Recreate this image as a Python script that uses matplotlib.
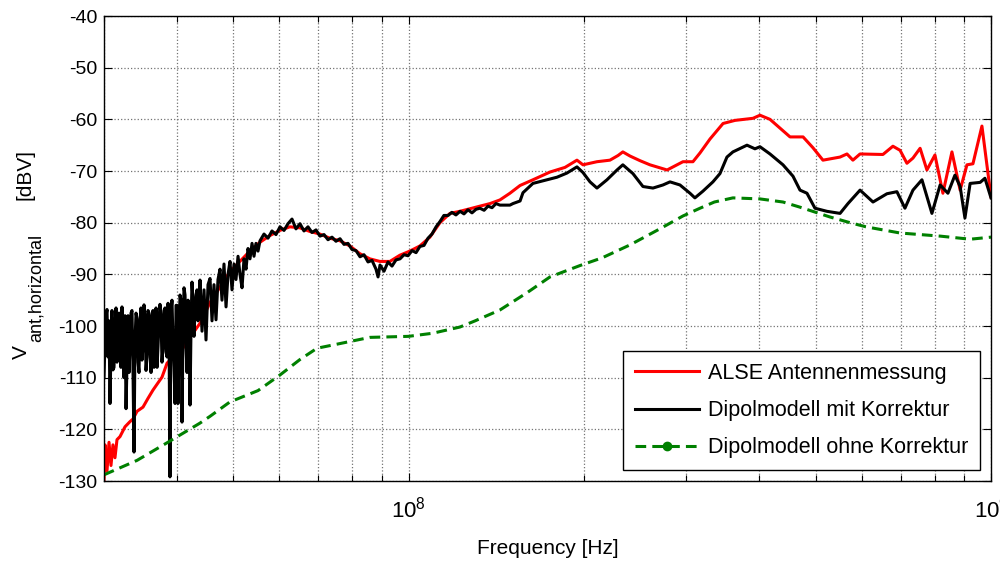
import numpy as np
import matplotlib
matplotlib.use('Agg')
import matplotlib.pyplot as plt
from matplotlib.lines import Line2D
from matplotlib.ticker import LogLocator, NullFormatter

plt.rcParams['font.family'] = ['Liberation Sans', 'DejaVu Sans']
plt.rcParams['mathtext.fontset'] = 'custom'
plt.rcParams['mathtext.rm'] = 'Liberation Sans'
plt.rcParams['axes.unicode_minus'] = False

# frequencies in MHz, levels in dBV
alse_f = [30.0, 30.12, 30.36, 30.6, 30.84, 31.08, 31.33, 31.58, 31.96, 32.6,
          33.25, 33.64, 34.19, 35.0, 35.7, 36.41, 37.14, 37.73, 38.49, 39.4,
          40.5, 41.66, 42.64, 43.83, 44.74, 45.59, 47.43, 49.34, 51.33, 53.4,
          55.55, 57.79, 60.12, 62.55, 65.07, 67.69, 70.42, 73.26, 76.22, 79.29,
          82.49, 85.82, 89.28, 92.88, 96.62, 100.5, 104.6, 108.8, 113.2, 117.8,
          122.5, 127.5, 132.6, 138.0, 143.5, 149.3, 155.4, 163.5, 174.9, 185.6,
          194.6, 199.3, 210.6, 221.7, 228.9, 233.3, 240.0, 249.7, 259.7, 277.9,
          295.9, 307.8, 316.5, 329.3, 346.7, 363.5, 390.2, 401.2, 417.4, 451.8,
          475.7, 494.7, 514.6, 550.6, 565.9, 579.3, 595.9, 652.3, 678.6, 698.1,
          717.2, 734.5, 755.6, 776.2, 801.2, 826.9, 856.9, 885.1, 909.3, 931.1,
          964.8, 1000.0]
alse_db = [-130, -123, -128, -122.5, -127, -123, -125.5, -122, -121.4, -119.5,
           -118.5, -118, -116.5, -115.7, -114, -112.4, -111, -109.9, -107.2, -106,
           -105.2, -103, -101.4, -99.5, -97.5, -95.5, -92.5, -89.5, -87.5, -85.5,
           -83.8, -82.5, -81.5, -80.8, -81, -81.7, -82.2, -83, -83.5, -84.5,
           -86, -87, -87.5, -87.5, -86.3, -85.5, -84.5, -82.8, -80, -78.2,
           -77.8, -77.3, -76.8, -76.3, -75.6, -74.3, -72.8, -71.7, -70.2, -69.3,
           -67.9, -68.8, -68.2, -67.9, -67, -66.3, -67.1, -68, -68.8, -69.8,
           -68.2, -68.2, -66.5, -63.8, -60.8, -60.2, -59.8, -59.2, -60, -63.4,
           -63.4, -65.5, -67.9, -67.3, -66.7, -67.9, -66.7, -66.8, -65.2, -66,
           -68.5, -67.5, -65.6, -69.8, -66.9, -74.3, -66.3, -73.7, -68.8, -68.6,
           -61.3, -75]

# Dipolmodell mit Korrektur, in pieces (the noisy low end is dense)
mit_f_low = [30.0, 30.24, 30.48, 30.72, 30.96, 31.21, 31.46, 31.71, 31.96, 32.21,
             32.47, 32.73, 32.99, 33.25, 33.51, 33.78, 34.05, 34.32, 34.59, 34.86,
             35.14, 35.42, 35.7, 35.98, 36.27, 36.56, 36.85, 37.14, 37.43, 37.73,
             38.03, 38.33, 38.64, 38.94, 39.25, 39.57, 39.88, 40.2, 40.51, 40.84,
             41.16, 41.49, 41.82, 42.15, 42.48, 42.82, 43.16, 43.5, 43.85]
mit_db_low = [-110, -98, -106, -115, -97, -108, -96.5, -105, -99, -96.3,
              -110, -116, -98, -104, -97, -124.4, -97.5, -107, -99, -106.6,
              -95.9, -108.6, -97, -105, -98, -108, -96.5, -104, -95.8, -107,
              -97, -105, -95.6, -129.2, -95, -108, -96, -115, -94, -118.6,
              -92.6, -104, -95, -115.3, -91.5, -102, -94, -99, -91.1]

mit_f_low2 = [30.12, 30.36, 30.6, 30.84, 31.08, 31.33, 31.58, 31.83, 32.08, 32.34,
              32.6, 32.86, 33.12, 33.38, 33.64, 33.91, 34.18, 34.45, 34.72, 35.0,
              35.28, 35.56, 35.84, 36.13, 36.41, 36.7, 37.0, 37.29, 37.58, 37.88,
              38.18, 38.49, 38.79, 39.1, 39.41, 39.73, 40.04, 40.36, 40.68, 41.0,
              41.33, 41.66, 41.99, 42.32, 42.65, 42.99, 43.33, 43.67]
mit_db_low2 = [-103, -96.8, -99, -104, -108.5, -100, -107, -97.5, -108, -104,
               -98, -107, -109, -97.5, -108, -103, -98.5, -109, -96.5, -104,
               -98, -106, -97.5, -109, -97, -103, -108, -99, -98, -104,
               -96.5, -106, -100, -97, -103, -115, -96, -105, -95, -101,
               -94, -109, -96, -100, -95, -97, -93, -97]

mit_f_mid = [44.2, 44.55, 44.9, 45.26, 45.62, 45.98, 46.34, 46.71, 47.08, 47.46,
             47.83, 48.21, 48.6, 48.98, 49.37, 49.76, 50.16, 50.55, 50.96, 51.36,
             51.77, 52.18, 52.59, 53.01, 53.43, 53.86, 54.28, 54.71, 55.15, 55.59]
mit_db_mid = [-101, -93, -102.7, -92, -90.8, -99, -92, -98.8, -91, -89,
              -95, -88, -96.3, -90, -87.5, -93, -88, -91, -86.5, -90,
              -92.6, -87, -89, -85, -87, -84, -86.5, -84, -85.5, -83.5]

mit_f_up = [56.47, 57.37, 58.28, 59.21, 60.16, 61.12, 62.09, 63.08, 64.08, 65.1,
            66.14, 67.2, 68.27, 69.36, 70.46, 71.59, 72.73, 73.89, 75.06, 76.26,
            77.48, 78.71, 79.97, 81.24, 82.54, 83.85, 85.19, 86.55, 87.93, 88.64,
            89.33, 90.75, 92.2, 93.67, 95.16, 96.68, 98.22, 99.78, 101.4, 103.0,
            104.6, 106.3, 108.0, 109.7, 111.5, 113.2, 115.0, 116.9, 118.7, 120.6,
            122.6, 124.5, 126.5, 128.5, 130.6, 132.6, 134.8, 136.9, 139.1, 141.3,
            143.5]
mit_db_up = [-82.2, -83, -81.6, -82.3, -80.8, -81.5, -80.2, -79.3, -81.2, -80.2,
             -81.6, -80.8, -81.9, -81.4, -82.6, -82.3, -83.3, -82.8, -83.6, -83.1,
             -84.2, -84, -85.2, -85.4, -86.6, -86.2, -87.6, -87.3, -89, -90.5,
             -88.2, -89.4, -87.6, -88.4, -87.2, -87, -86.2, -86.4, -85.4, -85.8,
             -84.6, -84.4, -83, -82.2, -80.8, -79.8, -78.6, -78.6, -78, -78.5,
             -77.8, -78.3, -77.5, -78.1, -77.4, -77.2, -77.6, -76.8, -77.1, -76.3,
             -76.6]

mit_f_high = [149.3, 151.1, 155.4, 157.2,
              163.5, 172.8, 179.8, 187.0, 194.6, 199.3, 204.9, 210.6, 219.1, 228.0,
              233.3, 242.8, 252.6, 262.8, 273.4, 281.1, 292.4, 304.2, 310.2, 320.2,
              333.1, 342.5, 352.1, 360.5, 381.1, 393.3, 401.2, 417.4, 439.4, 457.1,
              470.0, 483.1, 498.6, 522.8, 550.6, 568.1, 595.9, 627.2, 662.7, 689.4,
              711.6, 734.5, 761.1, 791.7, 817.8, 843.4, 867.1, 885.1, 902.1, 920.8,
              958.0, 976.3, 1000.0]
mit_db_high = [-76.6, -76.3, -75.8, -74.2,
               -72.4, -71.7, -71.2, -70.4, -69.2, -70.3, -72.1, -73.3, -71.7, -69.8,
               -68.8, -70.5, -73, -73.3, -72.7, -72.1, -72.7, -74.3, -75.2, -73.9,
               -72.1, -70.5, -67.3, -66.3, -65, -65.7, -65.3, -66.7, -68.8, -71,
               -73.7, -74.3, -77.2, -77.8, -78.2, -76.3, -73.7, -76, -74.4, -74,
               -77.2, -73.7, -71.7, -78.2, -72.7, -74.3, -70.8, -73, -79.1, -72.4,
               -72.2, -71.4, -75.2]

ohne_f = [30, 34.19, 38.49, 43.83, 45.59, 49.34, 55.15, 60.12, 65.07, 69.64,
          76.22, 85.82, 100, 110, 122.5, 130.1, 143.5, 160, 174.9, 196.9,
          215, 240, 270, 295.9, 316.5, 335, 360.5, 401.2, 439.4, 470,
          529.2, 572.8, 610, 698.1, 817.8, 920.8, 1000]
ohne_db = [-128.8, -126, -122.6, -118.8, -117.5, -114.7, -112.5, -109.5, -106.5, -104.3,
           -103.4, -102.2, -102, -101.4, -100.2, -99, -96.9, -93.5, -90.5, -88.3,
           -86.8, -84.3, -81.2, -78.7, -77.2, -76, -75.2, -75.4, -76, -77,
           -78.9, -80, -80.8, -82, -82.6, -83.2, -82.8]

labels = ['ALSE Antennenmessung', 'Dipolmodell mit Korrektur',
          'Dipolmodell ohne Korrektur']
yticks = list(range(-130, -39, 10))
xticks = [1e8, 1e9]
xticklabels = [r'$\mathregular{10^{8}}$', r'$\mathregular{10^{9}}$']

mit_f = np.array(mit_f_low + mit_f_low2 + mit_f_mid + mit_f_up + mit_f_high)
mit_db = np.array(mit_db_low + mit_db_low2 + mit_db_mid + mit_db_up + mit_db_high)
order = np.argsort(mit_f, kind='stable')
mit_f, mit_db = mit_f[order], mit_db[order]

fig = plt.figure(figsize=(10, 5.62), dpi=100)
ax = fig.add_axes([0.104, 0.1441, 0.887, 0.8274])

green = '#008000'
ax.plot(np.array(alse_f) * 1e6, alse_db, color='red', lw=2.2)
ax.plot(mit_f * 1e6, mit_db, color='black', lw=2.2)
ax.plot(np.array(ohne_f) * 1e6, ohne_db, color=green, lw=2.2, dashes=(3.5, 2))

ax.set_xscale('log')
ax.set_xlim(3e7, 1e9)
ax.set_ylim(-130, -40)
ax.set_yticks(yticks)
ax.set_yticklabels([str(v) for v in yticks])
ax.set_xticks(xticks)
ax.set_xticklabels(xticklabels, fontsize=16)
ax.xaxis.set_minor_locator(LogLocator(base=10, subs=np.arange(2, 10)))
ax.xaxis.set_minor_formatter(NullFormatter())

ax.tick_params(which='both', direction='in', top=True, right=True, width=0.8)
ax.tick_params(axis='y', labelsize=14, pad=5)
ax.tick_params(axis='x', pad=11)
ax.tick_params(which='major', length=6)
ax.tick_params(which='minor', length=4)
for s in ax.spines.values():
    s.set_linewidth(1.0)

ax.grid(True, which='major', ls=':', color='0.45', lw=0.9)
ax.grid(True, which='minor', axis='x', ls=':', color='0.45', lw=0.9)
ax.set_axisbelow(True)

ax.set_xlabel('Frequency [Hz]', fontsize=15)
ax.xaxis.set_label_coords(0.5, -0.125)

# y label built from pieces so the subscript size matches
fig.text(0.021, 0.374, 'V', rotation=90, fontsize=15, ha='center', va='center')
fig.text(0.036, 0.4875, 'ant,horizontal', rotation=90, fontsize=13,
         ha='center', va='center')
fig.text(0.025, 0.689, '[dBV]', rotation=90, fontsize=15, ha='center', va='center')

handles = [Line2D([], [], color='red', lw=2.2),
           Line2D([], [], color='black', lw=2.2),
           Line2D([], [], color=green, lw=2.2, dashes=(3.5, 2),
                  marker='o', markersize=6)]
leg = ax.legend(handles, labels, loc='lower right', fontsize=15.5,
                fancybox=False, framealpha=1, edgecolor='black',
                handlelength=3.0, handletextpad=0.4, labelspacing=0.76,
                borderpad=0.55, borderaxespad=0.5)
leg.get_frame().set_linewidth(1.0)

fig.savefig('out.png', dpi=100)
